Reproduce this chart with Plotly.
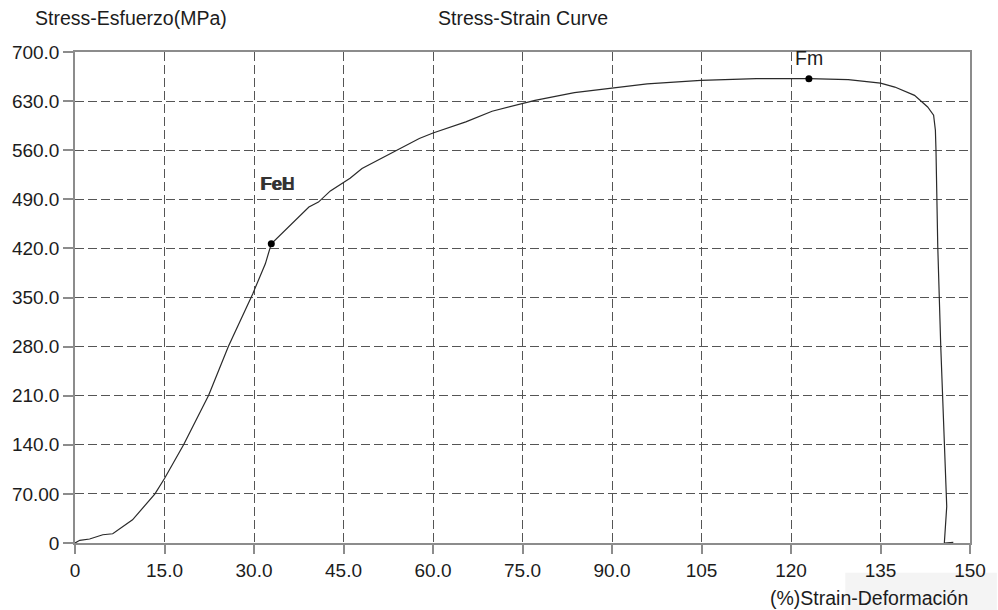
import plotly.graph_objects as go

# Stress-strain curve data
strain = [0, 0.8, 2.45, 4.66, 6.32, 9.64, 13.4, 15.0, 18.2, 22.4, 25.7, 29.8, 31.9, 32.9,
          39.2, 40.8, 42.8, 46.1, 48.1, 54.1, 57.7, 60.0, 65.5, 69.9, 75.0, 77.1, 83.7,
          89.9, 95.9, 104.9, 114.2, 123.0, 129.6, 135.0, 137.4, 140.7, 142.9, 143.9,
          144.2, 144.3, 144.6, 145.1, 145.7, 146.1, 145.7, 147.2]
stress = [0, 3.8, 5.7, 11.8, 13.2, 33, 70, 92, 140, 210.7, 280, 355.5, 398, 426.6,
          479, 486, 502, 520, 534, 561, 576.6, 584.6, 600.3, 615.5, 626.4, 631, 642,
          648, 654.6, 659.6, 662, 662, 660.5, 655.7, 650, 638.2, 621.6, 609.8,
          588.4, 560, 422, 280, 137.5, 52, 0, 1]

feh_x, feh_y = [32.9], [426.6]
fm_x, fm_y = [123.0], [662]

x_ticks = [0, 15, 30, 45, 60, 75, 90, 105, 120, 135, 150]
x_labels = ["0", "15.0", "30.0", "45.0", "60.0", "75.0", "90.0", "105", "120", "135", "150"]
y_ticks = [0, 70, 140, 210, 280, 350, 420, 490, 560, 630, 700]
y_labels = ["0", "70.00", "140.0", "210.0", "280.0", "350.0", "420.0", "490.0", "560.0", "630.0", "700.0"]

FONT = "Liberation Sans, Arial, sans-serif"
TXT = "#1c1c1c"

fig = go.Figure()
fig.add_trace(go.Scatter(x=strain, y=stress, mode="lines",
                         line=dict(color="#2a2a2a", width=1.2), showlegend=False,
                         hoverinfo="skip"))
fig.add_trace(go.Scatter(x=feh_x + fm_x, y=feh_y + fm_y, mode="markers",
                         marker=dict(color="black", size=7), showlegend=False,
                         cliponaxis=False))

axis_common = dict(
    showline=True, linecolor="#8c8c8c", linewidth=1.5, mirror=True,
    ticks="outside", tickcolor="#8c8c8c", tickwidth=1.5,
    showgrid=True, gridcolor="#555555", gridwidth=1, griddash="9px,4px",
    zeroline=False, tickfont=dict(family=FONT, size=19, color=TXT),
)

fig.update_xaxes(range=[0, 150], tickvals=x_ticks, ticktext=x_labels, ticklen=9, **axis_common)
fig.update_yaxes(range=[0, 700], tickvals=y_ticks, ticktext=y_labels, ticklen=10, **axis_common)

annotations = [
    dict(text="Stress-Esfuerzo(MPa)", xref="paper", yref="paper", x=-0.0474, y=1.0686,
         xanchor="left", yanchor="middle", showarrow=False,
         font=dict(family=FONT, size=19.5, color=TXT)),
    dict(text="Stress-Strain Curve", xref="paper", yref="paper", x=0.5, y=1.0686,
         xanchor="center", yanchor="middle", showarrow=False,
         font=dict(family=FONT, size=19.5, color=TXT)),
    dict(text="(%)Strain-Deformación", xref="paper", yref="paper", x=1.0, y=-0.111,
         xanchor="right", yanchor="middle", showarrow=False,
         font=dict(family=FONT, size=19.5, color=TXT)),
    dict(text="<b>FeH</b>", x=34.0, y=513, xref="x", yref="y", showarrow=False,
         xanchor="center", yanchor="middle", font=dict(family=FONT, size=18.5, color="#333333")),
    dict(text="<b>FeL</b>", x=34.0, y=513, xref="x", yref="y", showarrow=False,
         xanchor="center", yanchor="middle", font=dict(family=FONT, size=18.5, color="#333333")),
    dict(text="Fm", x=123.0, y=691, xref="x", yref="y", showarrow=False,
         xanchor="center", yanchor="middle", font=dict(family=FONT, size=19.5, color=TXT)),
]

fig.update_layout(
    width=998, height=610,
    margin=dict(l=72, r=22, t=52, b=67),
    paper_bgcolor="white", plot_bgcolor="white",
    annotations=annotations,
    shapes=[dict(type="rect", xref="paper", yref="paper", x0=0.8607, x1=1.03,
                 y0=-0.0604, y1=-0.14, fillcolor="#f4f4f4", line=dict(width=0),
                 layer="below")],
    showlegend=False,
)

fig.write_html("out.html", config={"displayModeBar": False},
               post_script="document.body.style.margin='0';document.body.style.overflow='hidden';")
